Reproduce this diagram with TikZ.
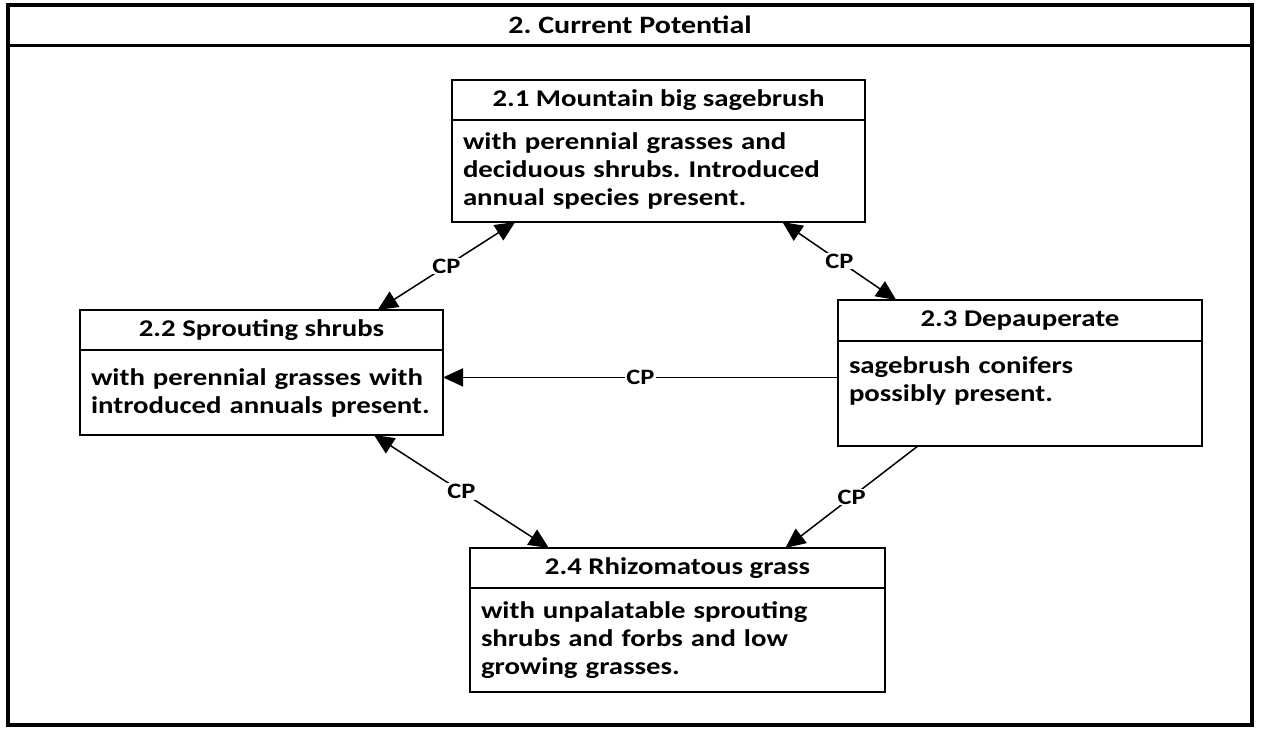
\documentclass[tikz,border=0pt]{standalone}
\usepackage{fontspec}
\setmainfont{Carlito}[FakeStretch = 1.2]
\frenchspacing
\usetikzlibrary{
    arrows.meta,
    positioning,
    calc
}
\tikzset {
    banner/.style = {draw, line width = 3pt, outer sep = 0pt, inner sep = 0pt,
        minimum width = 1244pt, minimum height = 40pt,
        font = \bfseries\fontsize{25}{28}\selectfont},
    frame/.style = {line width = 4pt},
    head/.style = {draw, line width = 1.6pt, outer sep = 0pt, inner sep = 0pt,
        minimum height = 40pt, font = \bfseries\fontsize{24}{28}\selectfont},
    body/.style = {draw, line width = 1.6pt, outer sep = 0pt, inner xsep = 11pt,
        inner ysep = 8pt, align = left, font = \bfseries\fontsize{24}{28}\selectfont},
    cp line/.style = {line width = 1.5pt, > = {Triangle[length = 20pt, width = 18pt]}},
    cp/.style = {
        insert path = {
            node[midway, fill = white, inner sep = 1pt,
                font = \bfseries\fontsize{22}{24}\selectfont]{CP}
        }
    }
}
\begin{document}
\begin{tikzpicture}[x = 1pt, y = -1pt]
    \useasboundingbox (0, 0) rectangle (1262, 729);
    \node (title) [banner] at (630, 25) {2. Current Potential};
    \draw [frame] (title.north west) rectangle (1252, 725);
    % states
    \node (h21) [head, minimum width = 413pt] at (658.5, 100) {2.1 Mountain big sagebrush};
    \node (b21) [body, text width = 391pt, minimum height = 102pt, below = 0pt of h21]
        {with perennial grasses and\\deciduous shrubs. Introduced\\annual species present.};
    \node (h22) [head, minimum width = 363pt] at (261.5, 330) {2.2 Sprouting shrubs};
    \node (b22) [body, text width = 341pt, minimum height = 85pt, below = 0pt of h22]
        {with perennial grasses with\\introduced annuals present.};
    \node (h23) [head, minimum width = 364pt, minimum height = 41pt] at (1020, 320.5) {2.3 Depauperate};
    \node (b23) [body, text width = 342pt, inner ysep = 16pt, text depth = 56pt, below = 0pt of h23]
        {sagebrush conifers\\possibly present.};
    \node (h24) [head, minimum width = 415pt] at (677.5, 568) {2.4 Rhizomatous grass};
    \node (b24) [body, text width = 393pt, minimum height = 104pt, below = 0pt of h24]
        {with unpalatable sprouting\\shrubs and forbs and low\\growing grasses.};
    % transitions
    \draw [cp line, <->] ($ (b21.south west)!.153!(b21.south east) $)
        -- ($ (h22.north west)!.82!(h22.north east) $) [cp];
    \draw [cp line, <->] ($ (b21.south west)!.80!(b21.south east) $)
        -- ($ (h23.north west)!.16!(h23.north east) $) [cp];
    \draw [cp line, ->] ([yshift = 16pt]b23.west) -- ([yshift = 16pt]b23.west -| b22.east) [cp];
    \draw [cp line, <->] ($ (b22.south west)!.81!(b22.south east) $)
        -- ($ (h24.north west)!.19!(h24.north east) $) [cp];
    \draw [cp line, ->] ($ (b23.south west)!.22!(b23.south east) $)
        -- ($ (h24.north west)!.76!(h24.north east) $) [cp];
\end{tikzpicture}
\end{document}
